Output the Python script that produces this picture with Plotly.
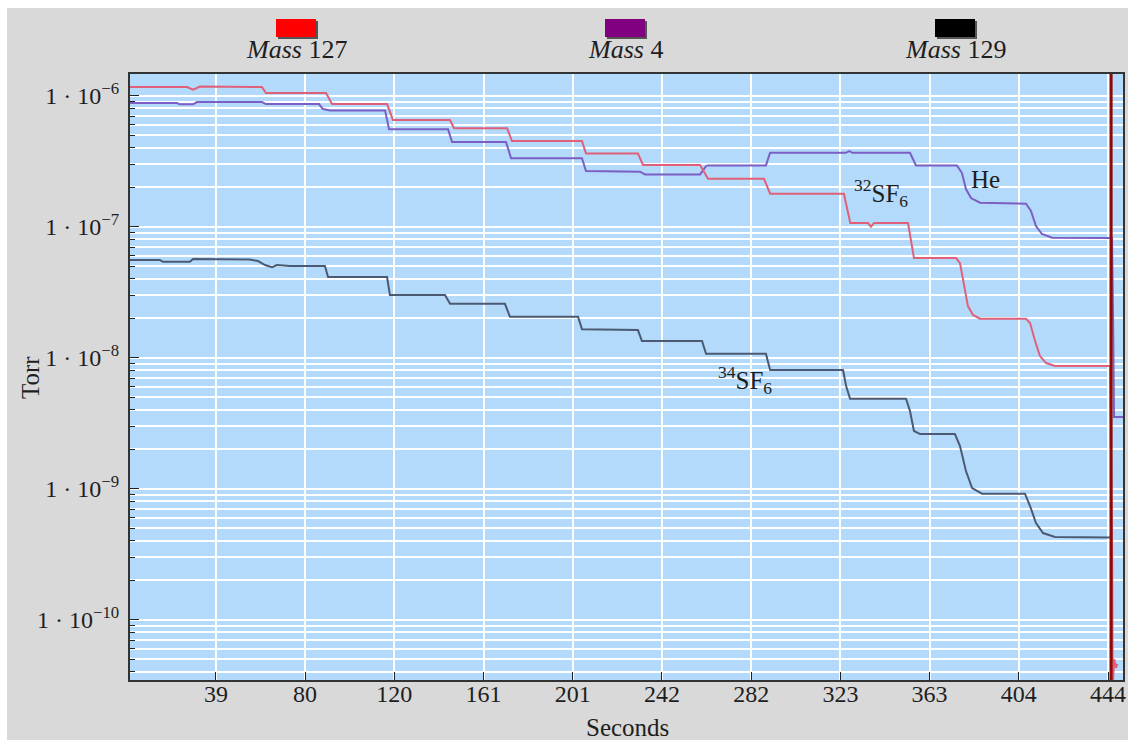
import plotly.graph_objects as go

# ---------------- data (seconds, Torr) ----------------
t_127 = [0, 25.9, 28.6, 31.8, 59.9, 61.7, 89.0, 91.7, 116.7, 119.4, 145.3, 147.1, 171.2, 173.4,
         205.2, 207.0, 230.6, 232.9, 258.8, 262.4, 287.8, 290.6, 324.1, 327.0, 335.0, 336.4, 337.8,
         353.2, 355.9, 375.0, 376.8, 378.6, 380.4, 382.7, 385.9, 406.8, 408.6, 410.9, 413.1, 415.9,
         419.9, 444.9, 445.9, 446.1, 446.8, 447.6, 448.2]
p_127 = [1.165e-6, 1.165e-6, 1.111e-6, 1.175e-6, 1.165e-6, 1.048e-6, 1.048e-6, 8.64e-7, 8.64e-7,
         6.53e-7, 6.53e-7, 5.64e-7, 5.64e-7, 4.51e-7, 4.51e-7, 3.62e-7, 3.62e-7, 2.96e-7, 2.96e-7,
         2.325e-7, 2.325e-7, 1.786e-7, 1.786e-7, 1.067e-7, 1.067e-7, 1.0e-7, 1.067e-7, 1.067e-7,
         5.77e-8, 5.77e-8, 5.28e-8, 3.525e-8, 2.48e-8, 2.12e-8, 1.985e-8, 1.985e-8, 1.84e-8,
         1.341e-8, 1.03e-8, 9.11e-9, 8.64e-9, 8.64e-9, 2.8e-10, 3.0e-11, 5.0e-11, 4.3e-11, 4.6e-11]

t_4 = [0, 21.3, 22.7, 28.6, 30.4, 59.9, 61.7, 85.8, 87.6, 90.8, 115.8, 117.6, 144.4, 146.2, 170.7,
       173.0, 205.2, 207.0, 231.5, 233.8, 258.8, 261.5, 262.4, 288.7, 290.6, 325.0, 326.5, 328.0,
       354.1, 356.8, 375.4, 377.7, 379.5, 381.8, 385.9, 406.8, 409.0, 411.3, 414.0, 418.6, 444.9,
       445.8, 446.3, 446.7, 451.0]
p_4 = [8.80e-7, 8.80e-7, 8.60e-7, 8.60e-7, 8.95e-7, 8.95e-7, 8.64e-7, 8.64e-7, 7.91e-7, 7.73e-7,
       7.73e-7, 5.54e-7, 5.54e-7, 4.43e-7, 4.43e-7, 3.33e-7, 3.33e-7, 2.66e-7, 2.63e-7, 2.51e-7,
       2.51e-7, 2.905e-7, 2.94e-7, 2.94e-7, 3.67e-7, 3.67e-7, 3.78e-7, 3.67e-7, 3.67e-7, 2.94e-7,
       2.94e-7, 2.57e-7, 1.94e-7, 1.656e-7, 1.525e-7, 1.498e-7, 1.318e-7, 1.012e-7, 8.80e-8,
       8.24e-8, 8.19e-8, 8.19e-8, 2.0e-8, 3.53e-9, 3.53e-9]

t_129 = [0, 13.6, 15.0, 27.2, 28.6, 52.2, 54.5, 58.1, 61.3, 64.5, 66.7, 72.6, 88.5, 89.9, 116.7,
         118.0, 143.0, 145.3, 170.2, 172.5, 203.4, 205.2, 230.6, 232.4, 259.7, 261.5, 288.7,
         290.6, 323.7, 325.1, 326.9, 352.3, 354.1, 355.9, 358.7, 374.5, 376.8, 379.5, 382.3,
         386.8, 406.3, 408.6, 411.3, 414.5, 419.9, 444.9]
p_129 = [5.57e-8, 5.57e-8, 5.40e-8, 5.40e-8, 5.67e-8, 5.67e-8, 5.62e-8, 5.47e-8, 5.10e-8, 4.92e-8,
         5.10e-8, 5.01e-8, 5.01e-8, 4.13e-8, 4.13e-8, 3.01e-8, 3.01e-8, 2.58e-8, 2.58e-8,
         2.056e-8, 2.056e-8, 1.647e-8, 1.627e-8, 1.341e-8, 1.341e-8, 1.073e-8, 1.073e-8,
         8.06e-9, 8.05e-9, 6.08e-9, 4.86e-9, 4.86e-9, 3.92e-9, 2.76e-9, 2.615e-9, 2.615e-9,
         2.12e-9, 1.365e-9, 1.012e-9, 9.16e-10, 9.16e-10, 7.38e-10, 5.47e-10, 4.59e-10, 4.28e-10,
         4.25e-10]

# end-of-scan marker (vertical trace at the last sample)
t_end = [445.4, 445.4]
p_end = [1e-5, 1e-11]

x_tickvals = [39, 79.5, 120, 160.5, 201, 241.5, 282, 322.5, 363, 403.5, 444]
x_ticktext = ["39", "80", "120", "161", "201", "242", "282", "323", "363", "404", "444"]
y_tickvals = [1e-6, 1e-7, 1e-8, 1e-9, 1e-10]
y_ticktext = ["1 · 10<sup>−6</sup>", "1 · 10<sup>−7</sup>", "1 · 10<sup>−8</sup>",
              "1 · 10<sup>−9</sup>", "1 · 10<sup>−10</sup>"]

legend_names = ["Mass", "Mass", "Mass"]
legend_nums = ["127", "4", "129"]
legend_colors = ["#ff0000", "#800080", "#000000"]

FONT = "Liberation Serif"
TXT = "#1e1e1e"

fig = go.Figure()
fig.add_trace(go.Scatter(x=t_129, y=p_129, mode="lines", line=dict(color="#4b5a72", width=2),
                         name="Mass 129"))
fig.add_trace(go.Scatter(x=t_4, y=p_4, mode="lines", line=dict(color="#7b5fc4", width=2),
                         name="Mass 4"))
fig.add_trace(go.Scatter(x=t_127, y=p_127, mode="lines", line=dict(color="#e0607a", width=2),
                         name="Mass 127"))
fig.add_trace(go.Scatter(x=t_end, y=p_end, mode="lines", line=dict(color="#8b0a0a", width=3),
                         name="end"))

# geometry helpers (plot area: x 130..1123 px, y 74..680 px)
L, R, T, B = 130, 1123, 74, 680
W, H = R - L, B - T


def px(x):
    return (x - L) / W


def py(y):
    return (B - y) / H


shapes = [
    dict(type="rect", xref="paper", yref="paper", x0=px(0), x1=px(1128), y0=py(8), y1=py(0),
         fillcolor="white", line_width=0, layer="below"),
    dict(type="rect", xref="paper", yref="paper", x0=px(0), x1=px(7), y0=py(740), y1=py(0),
         fillcolor="white", line_width=0, layer="below"),
]
annotations = []
centers = [296, 625, 955]
for c, col, nm, num in zip(centers, legend_colors, legend_names, legend_nums):
    shapes.append(dict(type="rect", xref="paper", yref="paper", x0=px(c - 18), x1=px(c + 22),
                       y0=py(39), y1=py(21), fillcolor="#555555", line_width=0))
    shapes.append(dict(type="rect", xref="paper", yref="paper", x0=px(c - 20), x1=px(c + 20),
                       y0=py(37), y1=py(19), fillcolor=col, line_width=0))
    annotations.append(dict(xref="paper", yref="paper", x=px(c), y=py(50), showarrow=False,
                            text=f"<i>{nm}</i> {num}", font=dict(family=FONT, size=26, color=TXT),
                            xanchor="center", yanchor="middle"))

annotations += [
    dict(x=388.6, y=-6.636, text="He", showarrow=False, font=dict(family=FONT, size=25, color=TXT)),
    dict(x=341.0, y=-6.74, text="<sup>32</sup>SF<sub>6</sub>", showarrow=False,
         font=dict(family=FONT, size=25, color=TXT)),
    dict(x=279.2, y=-8.17, text="<sup>34</sup>SF<sub>6</sub>", showarrow=False,
         font=dict(family=FONT, size=25, color=TXT)),
    dict(xref="paper", yref="paper", x=px(30), y=py(378), text="Torr", textangle=-90,
         showarrow=False, xanchor="center", yanchor="middle",
         font=dict(family=FONT, size=25, color=TXT)),
    dict(xref="paper", yref="paper", x=px(627), y=py(727), text="Seconds",
         showarrow=False, xanchor="center", yanchor="middle",
         font=dict(family=FONT, size=25, color=TXT)),
]

fig.update_layout(
    width=1128, height=740,
    margin=dict(l=L, r=1128 - R, t=T, b=740 - B, autoexpand=False),
    paper_bgcolor="#d9d9d9",
    plot_bgcolor="#b3dafa",
    showlegend=False,
    font=dict(family=FONT, size=24, color=TXT),
    shapes=shapes,
    annotations=annotations,
    xaxis=dict(range=[0, 450.8], tickmode="array", tickvals=x_tickvals, ticktext=x_ticktext,
               ticks="inside", ticklen=8, tickcolor="#222", showgrid=True, gridcolor="white",
               gridwidth=2, showline=True, linecolor="#333", linewidth=2, mirror=True,
               zeroline=False, ticklabelstandoff=-9, automargin=False,
               tickfont=dict(family=FONT, size=24, color=TXT)),
    yaxis=dict(type="log", range=[-10.46, -5.834], tickmode="array", tickvals=y_tickvals,
               ticktext=y_ticktext, ticks="inside", ticklen=9, tickcolor="#222",
               showgrid=True, gridcolor="white", gridwidth=2, showline=True, linecolor="#333",
               linewidth=2, mirror=True, zeroline=False, ticklabelstandoff=4, automargin=False,
               tickfont=dict(family=FONT, size=24, color=TXT),
               minor=dict(dtick="D1", ticks="inside", ticklen=5, tickcolor="#222",
                          showgrid=True, gridcolor="white", gridwidth=1.5)),
)

fig.write_html("out.html")
